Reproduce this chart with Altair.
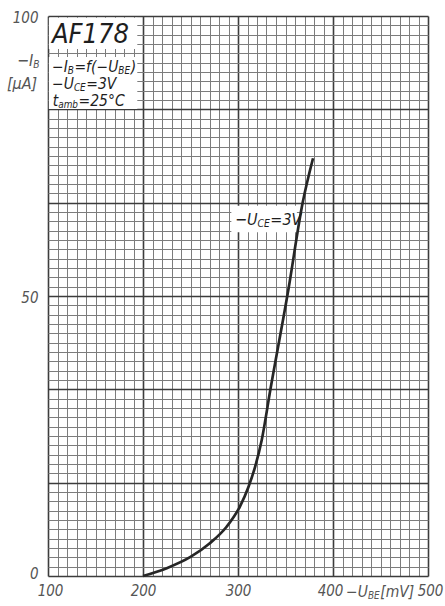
import altair as alt
import pandas as pd

# Input characteristic of the AF178 germanium transistor: -I_B vs -U_BE at -U_CE = 3 V
u_be = [200, 225, 250, 270, 288, 302, 311, 318, 325, 334, 353, 368, 379]   # mV
i_b = [0, 1.4, 3.4, 5.8, 8.8, 12.4, 15.9, 19.5, 24.3, 33.2, 51.1, 66.6, 74.6]  # µA

x_ticks = [100, 200, 300, 400, 500]
y_ticks = [0, 50, 100]

# graph-paper rulings: 10 mV horizontally, 1/60 of the range vertically
x_grid = list(range(100, 501, 10))
y_grid = [round(k * 100 / 60, 4) for k in range(61)]

FONT = "DejaVu Sans Condensed, Liberation Sans Narrow, DejaVu Sans, sans-serif"
INK = "#1e1e1e"
GREY = "#555555"
MINOR, MAJOR = "#7c7c7c", "#3c3c3c"

XS = alt.Scale(domain=[100, 500], nice=False, zero=False)
YS = alt.Scale(domain=[0, 100], nice=False, zero=False)

x_show = " || ".join(f"datum.value == {v}" for v in x_ticks)
y_show = " || ".join(f"datum.value == {v}" for v in y_ticks)

X_AXIS = alt.Axis(
    values=x_grid, grid=True, ticks=False, domain=False, title=None,
    labelExpr=f"{x_show} ? datum.label : ''",
    labelOverlap=False, labelFlush=False, labelFont=FONT, labelFontStyle="italic",
    labelFontSize=15, labelColor=GREY, labelPadding=7,
    labelOffset={"condition": [
        {"test": "datum.value == 400", "value": -3},
        {"test": "datum.value == 100 || datum.value == 500", "value": 2},
    ], "value": 0},
    gridColor={"condition": {"test": "datum.value % 100 == 0", "value": MAJOR}, "value": MINOR},
    gridWidth={"condition": {"test": "datum.value % 100 == 0", "value": 1.6}, "value": 1.0},
)
Y_AXIS = alt.Axis(
    values=y_grid, grid=True, ticks=False, domain=False, title=None,
    labelExpr=f"{y_show} ? datum.label : ''",
    labelOverlap=False, labelFlush=False, labelFont=FONT, labelFontStyle="italic",
    labelFontSize=15, labelColor=GREY, labelPadding=10,
    labelOffset={"condition": {"test": "datum.value == 0", "value": -3}, "value": 1},
    gridColor={"condition": {"test": "round(datum.value * 0.6) % 10 == 0", "value": MAJOR}, "value": MINOR},
    gridWidth={"condition": {"test": "round(datum.value * 0.6) % 10 == 0", "value": 1.6}, "value": 1.0},
)

# advance widths (em) used to set subscripts next to their base letters
EM = {"−": 0.838, "I": 0.295, "B": 0.686, "=": 0.838, "f": 0.352, "(": 0.39,
      ")": 0.39, "U": 0.732, "E": 0.632, "C": 0.698, "V": 0.684, "t": 0.392,
      "a": 0.613, "m": 0.974, "b": 0.635, "°": 0.5, "A": 0.684, "F": 0.575,
      "[": 0.39, "]": 0.39, "µ": 0.636, " ": 0.318}
COND = 0.9


def text_width(s, size):
    return sum(EM.get(c, 0.636) for c in s) * COND * size


def rich(x, y, segments, size, color):
    """Text line made of (string, is_subscript) pieces anchored at (x, y)."""
    src = pd.DataFrame({"x": [x], "y": [y]})
    layers, off = [], 0.0
    for s, sub in segments:
        fs = size * 0.64 if sub else size
        layers.append(
            alt.Chart(src).mark_text(
                text=s, dx=off, dy=size * 0.14 if sub else 0, align="left",
                baseline="alphabetic", font=FONT, fontStyle="italic",
                fontSize=fs, color=color,
            ).encode(
                x=alt.X("x:Q", scale=XS, axis=X_AXIS),
                y=alt.Y("y:Q", scale=YS, axis=Y_AXIS),
            )
        )
        off += text_width(s, fs) + (0.5 if sub else 0)
    return layers


curve_df = pd.DataFrame({"u": u_be, "i": i_b})

curve = alt.Chart(curve_df).mark_line(
    interpolate="monotone", color="#262626", strokeWidth=2.7
).encode(
    x=alt.X("u:Q", scale=XS, axis=X_AXIS),
    y=alt.Y("i:Q", scale=YS, axis=Y_AXIS),
)

# white patches behind the lettering
patches = pd.DataFrame({
    "x0": [100.9, 100.9, 293.0],
    "x1": [194.0, 194.0, 362.0],
    "y0": [94.1, 83.4, 61.4],
    "y1": [99.7, 92.7, 66.1],
})
blank = alt.Chart(patches).mark_rect(color="white").encode(
    x=alt.X("x0:Q", scale=XS, axis=X_AXIS), x2="x1:Q",
    y=alt.Y("y0:Q", scale=YS, axis=Y_AXIS), y2="y1:Q",
)

labels = []
labels += rich(104.2, 95.2, [("AF178", False)], 27, INK)
labels += rich(104.2, 90.0, [("−I", False), ("B", True), ("=f(−U", False), ("BE", True), (")", False)], 15.5, INK)
labels += rich(104.2, 87.0, [("−U", False), ("CE", True), ("=3V", False)], 15.5, INK)
labels += rich(105.0, 83.9, [("t", False), ("amb", True), ("=25°C", False)], 15.5, INK)
labels += rich(296.8, 62.7, [("−U", False), ("CE", True), ("=3V", False)], 16, INK)
labels += rich(413.7, -3.8, [("−U", False), ("BE", True), ("[mV]", False)], 15.5, GREY)
labels += rich(67.4, 91.1, [("−I", False), ("B", True)], 16, GREY)
labels += rich(56.8, 87.0, [("[µA]", False)], 16, GREY)

chart = alt.layer(blank, curve, *labels).properties(
    width=380, height=560,
    autosize=alt.AutoSizeParams(type="none"),
    padding={"left": 48, "top": 16, "right": 17, "bottom": 30},
    background="white",
).configure_view(stroke=None)

chart.save("out.html", embed_options={"renderer": "svg", "actions": False})
